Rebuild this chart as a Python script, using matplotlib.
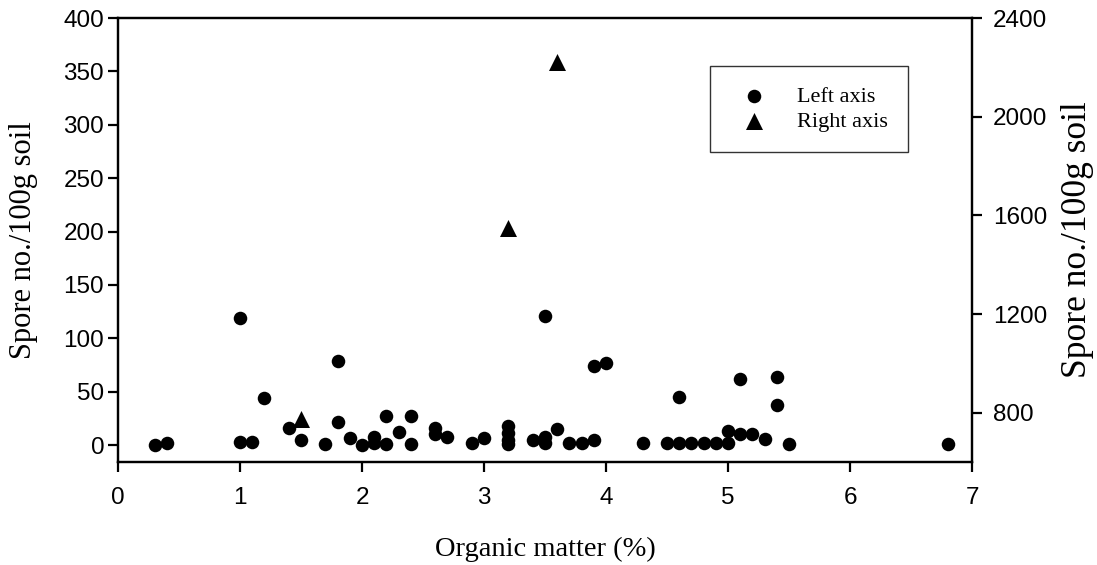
import matplotlib
matplotlib.use("Agg")
import matplotlib.pyplot as plt

# Organic matter (%) vs spore counts
left_x = [0.3, 0.4, 1.0, 1.0, 1.1, 1.2, 1.4, 1.5, 1.7, 1.8, 1.8, 1.9, 2.0, 2.1, 2.1,
          2.2, 2.2, 2.3, 2.4, 2.4, 2.6, 2.6, 2.7, 2.9, 3.0, 3.2, 3.2, 3.2, 3.2, 3.4,
          3.5, 3.5, 3.5, 3.6, 3.7, 3.8, 3.9, 3.9, 4.0, 4.3, 4.5, 4.6, 4.6, 4.7, 4.8,
          4.9, 5.0, 5.0, 5.1, 5.1, 5.2, 5.3, 5.4, 5.4, 5.5, 6.8]
left_y = [0, 2, 119, 3, 3, 44, 16, 5, 1, 79, 22, 7, 0, 2, 8,
          27, 1, 12, 27, 1, 16, 10, 8, 2, 7, 18, 11, 5, 1, 5,
          121, 2, 8, 15, 2, 2, 5, 74, 77, 2, 2, 2, 45, 2, 2,
          2, 13, 2, 10, 62, 10, 6, 64, 38, 1, 1]

right_x = [1.5, 3.2, 3.6]
right_y = [775, 1550, 2220]

left_ticks = [0, 50, 100, 150, 200, 250, 300, 350, 400]
right_ticks = [800, 1200, 1600, 2000, 2400]
x_ticks = [0, 1, 2, 3, 4, 5, 6, 7]

serif = "Liberation Serif"
sans = "Liberation Sans"

fig = plt.figure(figsize=(10.97, 5.65), dpi=100)
ax = fig.add_axes([0.1076, 0.182, 0.7785, 0.786])
ax2 = ax.twinx()

h1 = ax.scatter(left_x, left_y, s=95, c="black", marker="o", linewidths=0, zorder=3,
                label="Left axis")
h2 = ax2.scatter(right_x, right_y, s=150, c="black", marker="^", linewidths=0, zorder=3,
                 label="Right axis")

ax.set_xlim(0, 7)
ax.set_ylim(-16, 400)
ax2.set_ylim(600, 2400)

ax.set_xticks(x_ticks)
ax.set_yticks(left_ticks)
ax2.set_yticks(right_ticks)

for a in (ax, ax2):
    for sp in a.spines.values():
        sp.set_linewidth(1.6)
        sp.set_color("black")

ax.tick_params(axis="both", direction="out", length=7, width=1.6, labelsize=17.5)
ax.tick_params(axis="x", pad=11)
ax.tick_params(axis="y", pad=3)
ax2.tick_params(axis="y", direction="out", length=7, width=1.6, labelsize=17.5, pad=8)

for lab in ax.get_xticklabels() + ax.get_yticklabels() + ax2.get_yticklabels():
    lab.set_fontfamily(sans)

fig.text(545 / 1097, 1 - 549 / 565, "Organic matter (%)", fontfamily=serif, fontsize=20.5,
         ha="center", va="center")
fig.text(23.5 / 1097, 1 - 240 / 565, "Spore no./100g soil", fontfamily=serif,
         fontsize=22, rotation=90, ha="center", va="center")
fig.text(1078 / 1097, 1 - 240 / 565, "Spore no./100g soil", fontfamily=serif,
         fontsize=25.5, rotation=90, ha="center", va="center")

leg = ax2.legend(handles=[h1, h2], loc="upper right", bbox_to_anchor=(0.925, 0.892),
                 frameon=True, fancybox=False, borderpad=0.9, labelspacing=0.2,
                 handlelength=2.1, handletextpad=0.9, borderaxespad=0,
                 prop={"family": serif, "size": 16}, scatterpoints=1)
leg.get_frame().set_edgecolor("black")
leg.get_frame().set_linewidth(1.0)

fig.savefig("out.png", dpi=100, facecolor="white")
